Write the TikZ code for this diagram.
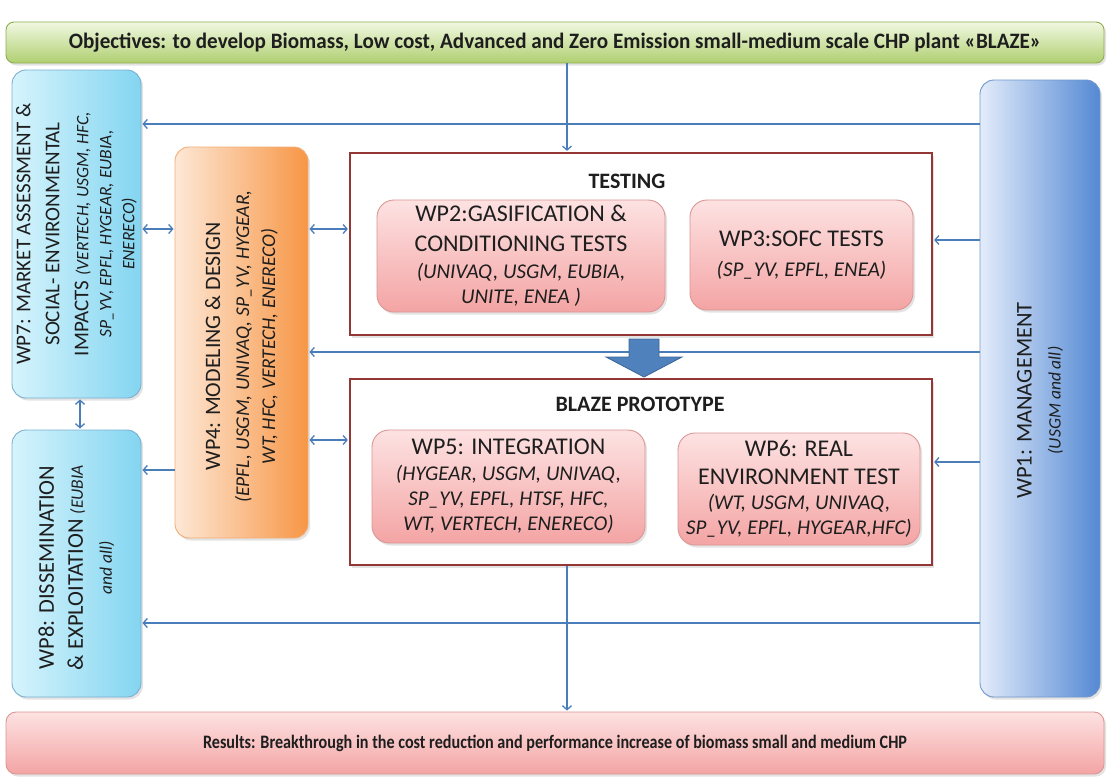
\documentclass[tikz,border=0pt]{standalone}
\usepackage{fontspec}
\setmainfont{Carlito}
\usepackage{graphicx}
\usetikzlibrary{arrows.meta,shadows}

\definecolor{lineblue}{HTML}{4A7EBB}
\definecolor{framered}{HTML}{943634}
\definecolor{greentop}{HTML}{F1F8E2}
\definecolor{greenbot}{HTML}{AFCF70}
\definecolor{greenline}{HTML}{8EAC50}
\definecolor{cyanleft}{HTML}{D6F4FC}
\definecolor{cyanright}{HTML}{84D5F1}
\definecolor{cyanline}{HTML}{79AFCF}
\definecolor{orangeleft}{HTML}{FDE8D6}
\definecolor{orangeright}{HTML}{F79646}
\definecolor{orangeline}{HTML}{F2AD76}
\definecolor{pinktop}{HTML}{FDE2E2}
\definecolor{pinkbot}{HTML}{F4A4A4}
\definecolor{pinkline}{HTML}{DA9694}
\definecolor{blueleft}{HTML}{E3ECFA}
\definecolor{blueright}{HTML}{5489D4}
\definecolor{blueline}{HTML}{7097CB}
\definecolor{arrowfill}{HTML}{4F81BD}
\definecolor{arrowline}{HTML}{3A6597}
\definecolor{ink}{HTML}{1E1E1E}

\newcommand\capsfont{\fontsize{22.5}{29}\selectfont}
\newcommand\cardcaps{\fontsize{24}{28}\selectfont}
\newcommand\partners{\fontsize{21}{25}\selectfont\itshape}
\newcommand\columnpartners{\fontsize{19.5}{25}\selectfont\itshape}
\newcommand\smallpartners{\fontsize{17.5}{21}\selectfont\itshape}
\newcommand\titlefont{\fontsize{22}{26}\selectfont\bfseries}
\newcommand\objfont{\fontsize{22}{26}\selectfont\bfseries}
\newcommand\resfont{\fontsize{19}{23}\selectfont\bfseries}

\tikzset{
  softshadow/.style={drop shadow={shadow xshift=2pt, shadow yshift=-2.5pt, opacity=0.22}},
  card/.style={rounded corners=14pt, line width=0.9pt, inner sep=0pt, softshadow, text=ink},
  sidecard/.style={card, left color=cyanleft, right color=cyanright, draw=cyanline},
  wpcard/.style={card, rounded corners=17pt, top color=pinktop, bottom color=pinkbot, draw=pinkline, align=center, font=\cardcaps},
  groupframe/.style={draw=framered, line width=2.2pt, fill=white, inner sep=0pt, softshadow},
  vlabel/.style={rotate=90, align=center, font=\capsfont, text=ink, inner sep=0pt},
  arr/.style={draw=lineblue, line width=1.3pt, -{Straight Barb[length=4pt,width=9pt]}, shorten >=1pt},
  darr/.style={draw=lineblue, line width=1.3pt, {Straight Barb[length=4pt,width=9pt]}-{Straight Barb[length=4pt,width=9pt]}, shorten >=1pt, shorten <=1pt},
}

\begin{document}
\begin{tikzpicture}[x=1pt,y=-1pt]
\useasboundingbox (0,0) rectangle (1107,776);

% levels of the horizontal and vertical connectors
\coordinate (yA) at (0,124);
\coordinate (yB) at (0,229);
\coordinate (yC) at (0,240);
\coordinate (yD) at (0,352);
\coordinate (yE) at (0,440);
\coordinate (yF) at (0,462);
\coordinate (yG) at (0,470);
\coordinate (yH) at (0,623);
\coordinate (xMid) at (567,0);
\coordinate (xSide) at (80,0);

% objectives banner
\node[card, rounded corners=8pt, minimum width=1098pt, minimum height=41pt,
      top color=greentop, bottom color=greenbot, draw=greenline, font=\objfont] (obj) at (555,42.5)
  {\scalebox{0.96}[1]{Objectives: to develop Biomass, Low cost, Advanced and Zero Emission small-medium scale CHP plant «BLAZE»}};

% left column: WP7 and WP8
\node[sidecard, minimum width=129pt, minimum height=328pt] (wp7) at (76.5,234) {};
\node[vlabel, font=\fontsize{21}{29}\selectfont] (wp7label) at (wp7.center)
  {WP7: MARKET ASSESSMENT \&\\SOCIAL- ENVIRONMENTAL\\IMPACTS {\smallpartners (VERTECH, USGM, HFC,}\\[-6pt]{\smallpartners SP\_YV, EPFL, HYGEAR, EUBIA,}\\[-6pt]{\smallpartners ENERECO)}};

\node[sidecard, minimum width=129pt, minimum height=267pt] (wp8) at (76.5,563.5) {};
\node[vlabel] (wp8label) at ([yshift=-4pt]wp8.center)
  {WP8: DISSEMINATION\\\& EXPLOITATION {\smallpartners (EUBIA}\\{\smallpartners and all)}};

% WP4 modeling column
\node[card, left color=orangeleft, right color=orangeright, draw=orangeline,
      minimum width=133pt, minimum height=391pt] (wp4) at (241.5,342.5) {};
\node[vlabel, font=\fontsize{22}{29}\selectfont] (wp4label) at ([yshift=-4pt]wp4.center)
  {WP4: MODELING \& DESIGN\\{\columnpartners (EPFL, USGM, UNIVAQ, SP\_YV, HYGEAR,}\\[-3pt]{\columnpartners WT, HFC, VERTECH, ENERECO)}};

% testing group
\node[groupframe, minimum width=582pt, minimum height=182pt] (testing) at (641,244) {};
\node[font=\titlefont, text=ink] (testingtitle) at (627,181) {TESTING};
\node[wpcard, minimum width=288pt, minimum height=112pt] (wp2) at (521,256)
  {WP2:GASIFICATION \&\\[2pt]CONDITIONING TESTS\\[-1pt]{\partners (UNIVAQ, USGM, EUBIA,}\\[-3pt]{\partners UNITE, ENEA )}};
\node[wpcard, minimum width=223pt, minimum height=110pt] (wp3) at (801.5,255)
  {WP3:SOFC TESTS\\[2pt]{\partners (SP\_YV, EPFL, ENEA)}};

% prototype group
\node[groupframe, minimum width=582pt, minimum height=186pt] (blaze) at (641,472) {};
\node[font=\titlefont, text=ink] (blazetitle) at (640,404) {BLAZE PROTOTYPE};
\node[wpcard, minimum width=273pt, minimum height=113pt] (wp5) at (508.5,486.5)
  {WP5: INTEGRATION\\[-2pt]{\partners (HYGEAR, USGM, UNIVAQ,}\\[-3pt]{\partners SP\_YV, EPFL, HTSF, HFC,}\\[-3pt]{\partners WT, VERTECH, ENERECO)}};
\node[wpcard, minimum width=242pt, minimum height=112pt] (wp6) at (799,489)
  {WP6: REAL\\ENVIRONMENT TEST\\[-3pt]{\partners (WT, USGM, UNIVAQ,}\\[-3pt]{\partners SP\_YV, EPFL, HYGEAR,HFC)}};

% WP1 management column
\node[card, left color=blueleft, right color=blueright, draw=blueline,
      minimum width=120pt, minimum height=617pt] (wp1) at (1040,388.5) {};
\node[vlabel] (wp1label) at ([yshift=-12pt]wp1.center)
  {WP1: MANAGEMENT\\{\smallpartners (USGM and all)}};

% results banner
\node[card, rounded corners=10pt, minimum width=1098pt, minimum height=62pt,
      top color=pinktop, bottom color=pinkbot, draw=pinkline, font=\resfont] (res) at (555,743)
  {\scalebox{0.85}[1]{Results: Breakthrough in the cost reduction and performance increase of biomass small and medium CHP}};

% connectors
\draw[arr] (obj.south -| xMid) -- (testing.north -| xMid);
\draw[arr] (blaze.south -| xMid) -- (res.north -| xMid);
\draw[arr] (wp1.west |- yA) -- (wp7.east |- yA);
\draw[arr] (wp1.west |- yC) -- (testing.east |- yC);
\draw[arr] (wp1.west |- yD) -- (wp4.east |- yD);
\draw[arr] (wp1.west |- yF) -- (blaze.east |- yF);
\draw[arr] (wp1.west |- yH) -- (wp8.east |- yH);
\draw[darr] (wp7.east |- yB) -- (wp4.west |- yB);
\draw[darr] (wp4.east |- yB) -- (testing.west |- yB);
\draw[darr] (wp4.east |- yE) -- (blaze.west |- yE);
\draw[arr] (wp4.west |- yG) -- (wp8.east |- yG);
\draw[darr] (wp7.south -| xSide) -- (wp8.north -| xSide);

% block arrow from testing down to the prototype
\filldraw[fill=arrowfill, draw=arrowline, line width=0.8pt]
  (629,339) -- (659,339) -- (659,357) -- (682,357) -- (644,377) -- (606,357) -- (629,357) -- cycle;
\end{tikzpicture}
\end{document}
